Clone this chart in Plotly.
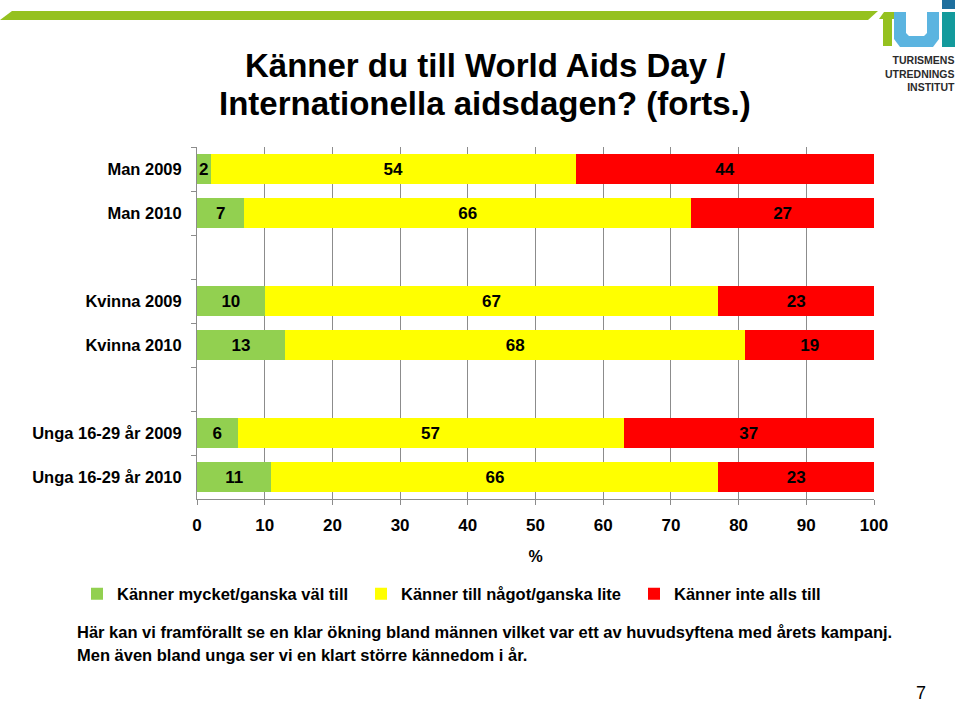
import plotly.graph_objects as go

# ---------------- data ----------------
categories = ["Man 2009", "Man 2010", "Kvinna 2009", "Kvinna 2010",
              "Unga 16-29 år 2009", "Unga 16-29 år 2010"]
val_valtill = [2, 7, 10, 13, 6, 11]
val_lite = [54, 66, 67, 68, 57, 66]
val_inte = [44, 27, 23, 19, 37, 23]
series_names = ["Känner mycket/ganska väl till", "Känner till något/ganska lite", "Känner inte alls till"]
x_ticks = [0, 10, 20, 30, 40, 50, 60, 70, 80, 90, 100]
# empty spacer rows after these group positions
spacer_after = [1, 3]

title_lines = ["Känner du till World Aids Day /", "Internationella aidsdagen? (forts.)"]
note_lines = ["Här kan vi framförallt se en klar ökning bland männen vilket var ett av huvudsyftena med årets kampanj.",
              "Men även bland unga ser vi en klart större kännedom i år."]
page_no = "7"
logo_lines = ["TURISMENS", "UTREDNINGS", "INSTITUT"]

# ---------------- layout constants ----------------
W, H = 959, 702
L, R, T, B = 197, 85, 147, 203
PW = W - L - R
PH = H - T - B
FONT = "Liberation Sans, Arial, sans-serif"
COLORS = ["#92d050", "#ffff00", "#ff0000"]


def px(x):
    return (x - L) / PW


def py(y):
    return (H - B - y) / PH


# build category axis with blank spacer rows
ycats, idx_map = [], []
blank = 0
for i, c in enumerate(categories):
    ycats.append(c)
    idx_map.append(i)
    if i in spacer_after:
        blank += 1
        ycats.append(" " * blank)
        idx_map.append(None)


def expand(vals):
    xs = [vals[i] if i is not None else None for i in idx_map]
    ts = [str(vals[i]) if i is not None else "" for i in idx_map]
    return xs, ts


fig = go.Figure()
legends = ["legend", "legend2", "legend3"]
for vals, name, col, lg in zip([val_valtill, val_lite, val_inte], series_names, COLORS, legends):
    xs, ts = expand(vals)
    fig.add_trace(go.Bar(
        y=ycats, x=xs, orientation="h", name=name, legend=lg,
        marker=dict(color=col, line=dict(width=0)),
        text=ts, textposition="inside", insidetextanchor="middle",
        textfont=dict(family=FONT, size=17, color="black", weight="bold"),
        hoverinfo="skip",
    ))

leg_common = dict(orientation="h", yanchor="middle", xanchor="left", y=py(594),
                  font=dict(family=FONT, size=16.5, color="black", weight="bold"),
                  bgcolor="rgba(0,0,0,0)", borderwidth=0, itemclick=False)

fig.update_layout(
    width=W, height=H,
    margin=dict(l=L, r=R, t=T, b=B, pad=0),
    paper_bgcolor="white", plot_bgcolor="white",
    barmode="stack", bargap=0.34,
    showlegend=True,
    uniformtext=dict(minsize=17, mode="show"),
    font=dict(family=FONT, color="black"),
    legend=dict(x=px(77), **leg_common),
    legend2=dict(x=px(361), **leg_common),
    legend3=dict(x=px(634), **leg_common),
    xaxis=dict(range=[0, 100], tickvals=x_ticks, ticktext=[str(v) for v in x_ticks],
               showgrid=True, gridcolor="#8c8c8c", gridwidth=1, zeroline=False,
               showline=True, linecolor="#8c8c8c", linewidth=1,
               ticks="outside", ticklen=5, tickcolor="#8c8c8c",
               ticklabelstandoff=6,
               tickfont=dict(family=FONT, size=17, color="black", weight="bold"),
               title=dict(text="%", standoff=16,
                          font=dict(family=FONT, size=16, color="black", weight="bold"))),
    yaxis=dict(type="category", categoryorder="array", categoryarray=ycats,
               autorange="reversed", showgrid=False, zeroline=False,
               showline=True, linecolor="#8c8c8c", linewidth=1,
               ticks="outside", ticklen=5, tickcolor="#8c8c8c", tickson="boundaries",
               ticklabelstandoff=11,
               tickfont=dict(family=FONT, size=16.5, color="black", weight="bold")),
)

# ---------------- title ----------------
for i, line in enumerate(title_lines):
    fig.add_annotation(text=line, xref="paper", yref="paper", x=px(485), y=py(65 + 38 * i),
                       xanchor="center", yanchor="middle", showarrow=False,
                       font=dict(family=FONT, size=33, color="black", weight="bold"))

# ---------------- note text ----------------
for i, line in enumerate(note_lines):
    fig.add_annotation(text=line, xref="paper", yref="paper", x=px(75), y=py(632 + 23 * i),
                       xanchor="left", yanchor="middle", showarrow=False,
                       font=dict(family=FONT, size=16.5, color="black", weight="bold"))

fig.add_annotation(text=page_no, xref="paper", yref="paper", x=px(921), y=py(693),
                   xanchor="center", yanchor="middle", showarrow=False,
                   font=dict(family=FONT, size=18, color="black"))

# ---------------- header stripe & logo ----------------
def path(points):
    return "M " + " L ".join(f"{px(x)},{py(y)}" for x, y in points) + " Z"


shapes = [
    dict(type="path", path=path([(0, 20), (12, 11), (878, 11), (868, 20)]),
         fillcolor="#95c11f", line=dict(width=0)),
    # T
    dict(type="path", path=path([(879, 19), (884, 12), (900, 12), (895, 19)]),
         fillcolor="#95c11f", line=dict(width=0)),
    dict(type="path", path=path([(883, 19), (892, 19), (892, 46), (883, 46)]),
         fillcolor="#95c11f", line=dict(width=0)),
    # U
    dict(type="path", path=path([(894, 12), (906, 12), (906, 33), (909, 36), (924, 36), (927, 33),
                                 (927, 12), (939, 12), (939, 39), (933, 47), (900, 47), (894, 39)]),
         fillcolor="#5bb4e0", line=dict(width=0)),
    # i
    dict(type="path", path=path([(942, 12), (955, 12), (955, 47), (942, 47)]),
         fillcolor="#139a9c", line=dict(width=0)),
    dict(type="path", path=path([(942, 0), (955, 0), (955, 9), (942, 9)]),
         fillcolor="#1e6f9e", line=dict(width=0)),
]
for s in shapes:
    s.update(xref="paper", yref="paper", layer="above")
fig.update_layout(shapes=shapes)

fig.add_annotation(text="<br>".join(logo_lines), xref="paper", yref="paper",
                   x=px(957), y=py(52), xanchor="right", yanchor="top", align="right",
                   showarrow=False,
                   font=dict(family=FONT, size=10.5, color="#2b2b2b", weight="bold"))

fig.write_html("out.html", config={"displayModeBar": False},
               post_script="document.body.style.margin='0';document.body.style.overflow='hidden';")
